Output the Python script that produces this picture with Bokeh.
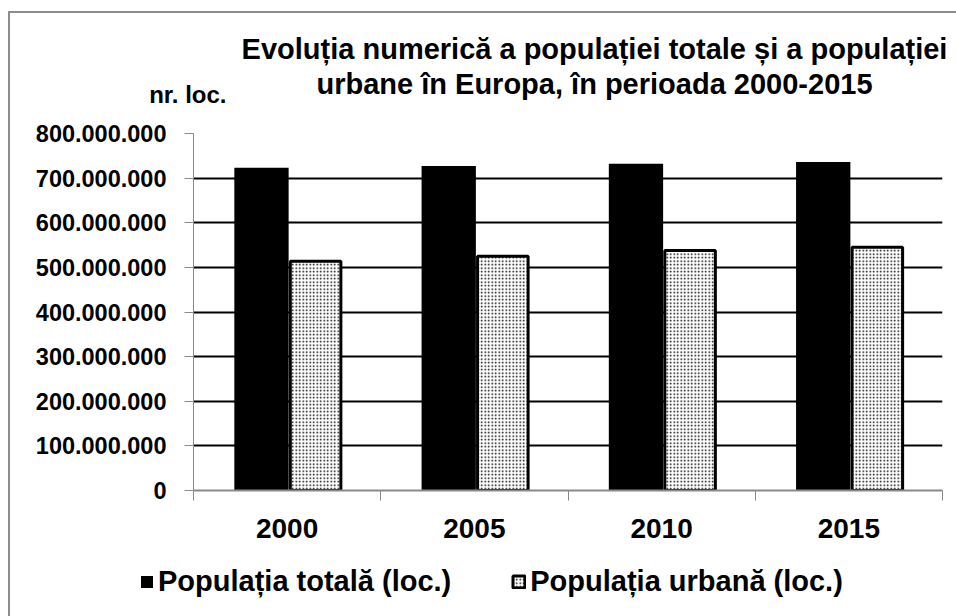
from bokeh.plotting import figure
from bokeh.layouts import column
from bokeh.models import (FixedTicker, Legend, LegendItem, ColumnDataSource,
                          CustomJSTickFormatter, Range1d, Label)
from bokeh.embed import file_html
from bokeh.resources import INLINE

years = ["2000", "2005", "2010", "2015"]
total_pop = [723_000_000, 727_000_000, 732_000_000, 736_000_000]
urban_pop = [514_000_000, 525_000_000, 538_000_000, 545_000_000]
y_ticks = [0, 100_000_000, 200_000_000, 300_000_000, 400_000_000,
           500_000_000, 600_000_000, 700_000_000, 800_000_000]

title_l1 = "Evoluția numerică a populației totale și a populației"
title_l2 = "urbane în Europa, în perioada 2000-2015"
y_title = "nr. loc."
name_total = "Populația totală (loc.)"
name_urban = "Populația urbană (loc.)"

FONT = "Liberation Sans"
W = 956
H_TOP, H_MAIN, H_LEG = 112, 451, 53

TOTAL_STYLE = dict(fill_color="black", line_color=None)
URBAN_STYLE = dict(fill_color="white", line_color="black", line_width=3,
                   hatch_pattern="dot", hatch_color="black", hatch_scale=3.5,
                   hatch_weight=2)


def blank_fig(h):
    f = figure(width=W, height=h, output_backend="svg", toolbar_location=None,
               x_axis_location=None, y_axis_location=None,
               x_range=Range1d(0, 1), y_range=Range1d(0, 1), min_border=0)
    f.outline_line_color = None
    f.grid.visible = False
    f.background_fill_color = None
    f.border_fill_color = None
    try:
        f.frame_align = False
    except AttributeError:
        pass
    return f


# ---------- title block ----------
top = blank_fig(H_TOP)
for txt, x, y, align, size in [
    (title_l1, 594, 64, "center", "29px"),
    (title_l2, 594, 29, "center", "29px"),
    (y_title, 226, 18, "right", "24px"),
]:
    top.add_layout(Label(x=x, y=y, x_units="screen", y_units="screen", text=txt,
                         text_align=align, text_baseline="alphabetic",
                         text_font=FONT, text_font_style="bold",
                         text_font_size=size, text_color="black"))

# ---------- main chart ----------
centers = [i + 0.5 for i in range(len(years))]
src = ColumnDataSource(dict(
    xt=[c - 0.137 for c in centers],
    xu=[c + 0.152 for c in centers],
    total=total_pop,
    urban=urban_pop,
))

p = figure(width=W, height=H_MAIN, output_backend="svg", toolbar_location=None,
           x_range=Range1d(0, len(years)), y_range=Range1d(0, 800_000_000),
           min_border_left=193, min_border_right=14, min_border_top=21,
           min_border_bottom=73)
p.outline_line_color = None
p.background_fill_color = None
p.border_fill_color = None

p.ygrid.ticker = FixedTicker(ticks=y_ticks[1:])
p.ygrid.grid_line_color = "black"
p.ygrid.grid_line_width = 2
p.xgrid.grid_line_color = None

p.vbar(x="xt", top="total", width=0.29, bottom=0, source=src, **TOTAL_STYLE)
p.vbar(x="xu", top="urban", width=0.27, bottom=0, source=src, **URBAN_STYLE)

ya = p.yaxis[0]
ya.ticker = FixedTicker(ticks=y_ticks)
ya.formatter = CustomJSTickFormatter(code="""
    return Math.round(tick).toString().replace(/\\B(?=(\\d{3})+(?!\\d))/g, '.');
""")
ya.axis_line_color = "#8a8a8a"
ya.axis_line_width = 1
ya.major_tick_line_color = "#8a8a8a"
ya.major_tick_out = 9
ya.major_tick_in = 0
ya.minor_tick_line_color = None
ya.major_label_standoff = 18
ya.major_label_text_font = FONT
ya.major_label_text_font_style = "bold"
ya.major_label_text_font_size = "23.5px"
ya.major_label_text_color = "black"

xa = p.xaxis[0]
xa.ticker = FixedTicker(ticks=centers, minor_ticks=list(range(len(years) + 1)))
xa.major_label_overrides = {c: y for c, y in zip(centers, years)}
xa.axis_line_color = "#8a8a8a"
xa.axis_line_width = 2
xa.major_tick_line_color = None
xa.major_tick_out = 0
xa.minor_tick_line_color = "#8a8a8a"
xa.minor_tick_line_width = 1
xa.minor_tick_out = 10
xa.minor_tick_in = 0
xa.major_label_standoff = 18
xa.major_label_text_font = FONT
xa.major_label_text_font_style = "bold"
xa.major_label_text_font_size = "28px"
xa.major_label_text_color = "black"

# ---------- legend block (hidden renderers only supply the legend swatches) ----------
leg = blank_fig(H_LEG)
lt = leg.vbar(x="xt", top="total", width=0.29, bottom=0, source=src,
              visible=False, **TOTAL_STYLE)
lu = leg.vbar(x="xu", top="urban", width=0.27, bottom=0, source=src,
              visible=False, **URBAN_STYLE)
legend = Legend(items=[LegendItem(label=name_total, renderers=[lt]),
                       LegendItem(label=name_urban, renderers=[lu])],
                orientation="horizontal", location=(139, 18),
                label_text_font=FONT, label_text_font_style="bold",
                label_text_font_size="29px", label_standoff=4, spacing=60,
                glyph_width=15, glyph_height=15, padding=0, margin=0,
                border_line_color=None, background_fill_alpha=0,
                inactive_fill_alpha=0,
                label_text_color="black")
leg.add_layout(legend, "center")

layout = column(top, p, leg, spacing=0)
layout.styles = {
    "background-color": "white",
    "background-image": "linear-gradient(#8c8c8c, #8c8c8c), linear-gradient(#8c8c8c, #8c8c8c)",
    "background-size": "2px 700px, 1000px 2px",
    "background-position": "8px 11px, 8px 11px",
    "background-repeat": "no-repeat",
}

open("out.html", "w").write(file_html(layout, INLINE))
